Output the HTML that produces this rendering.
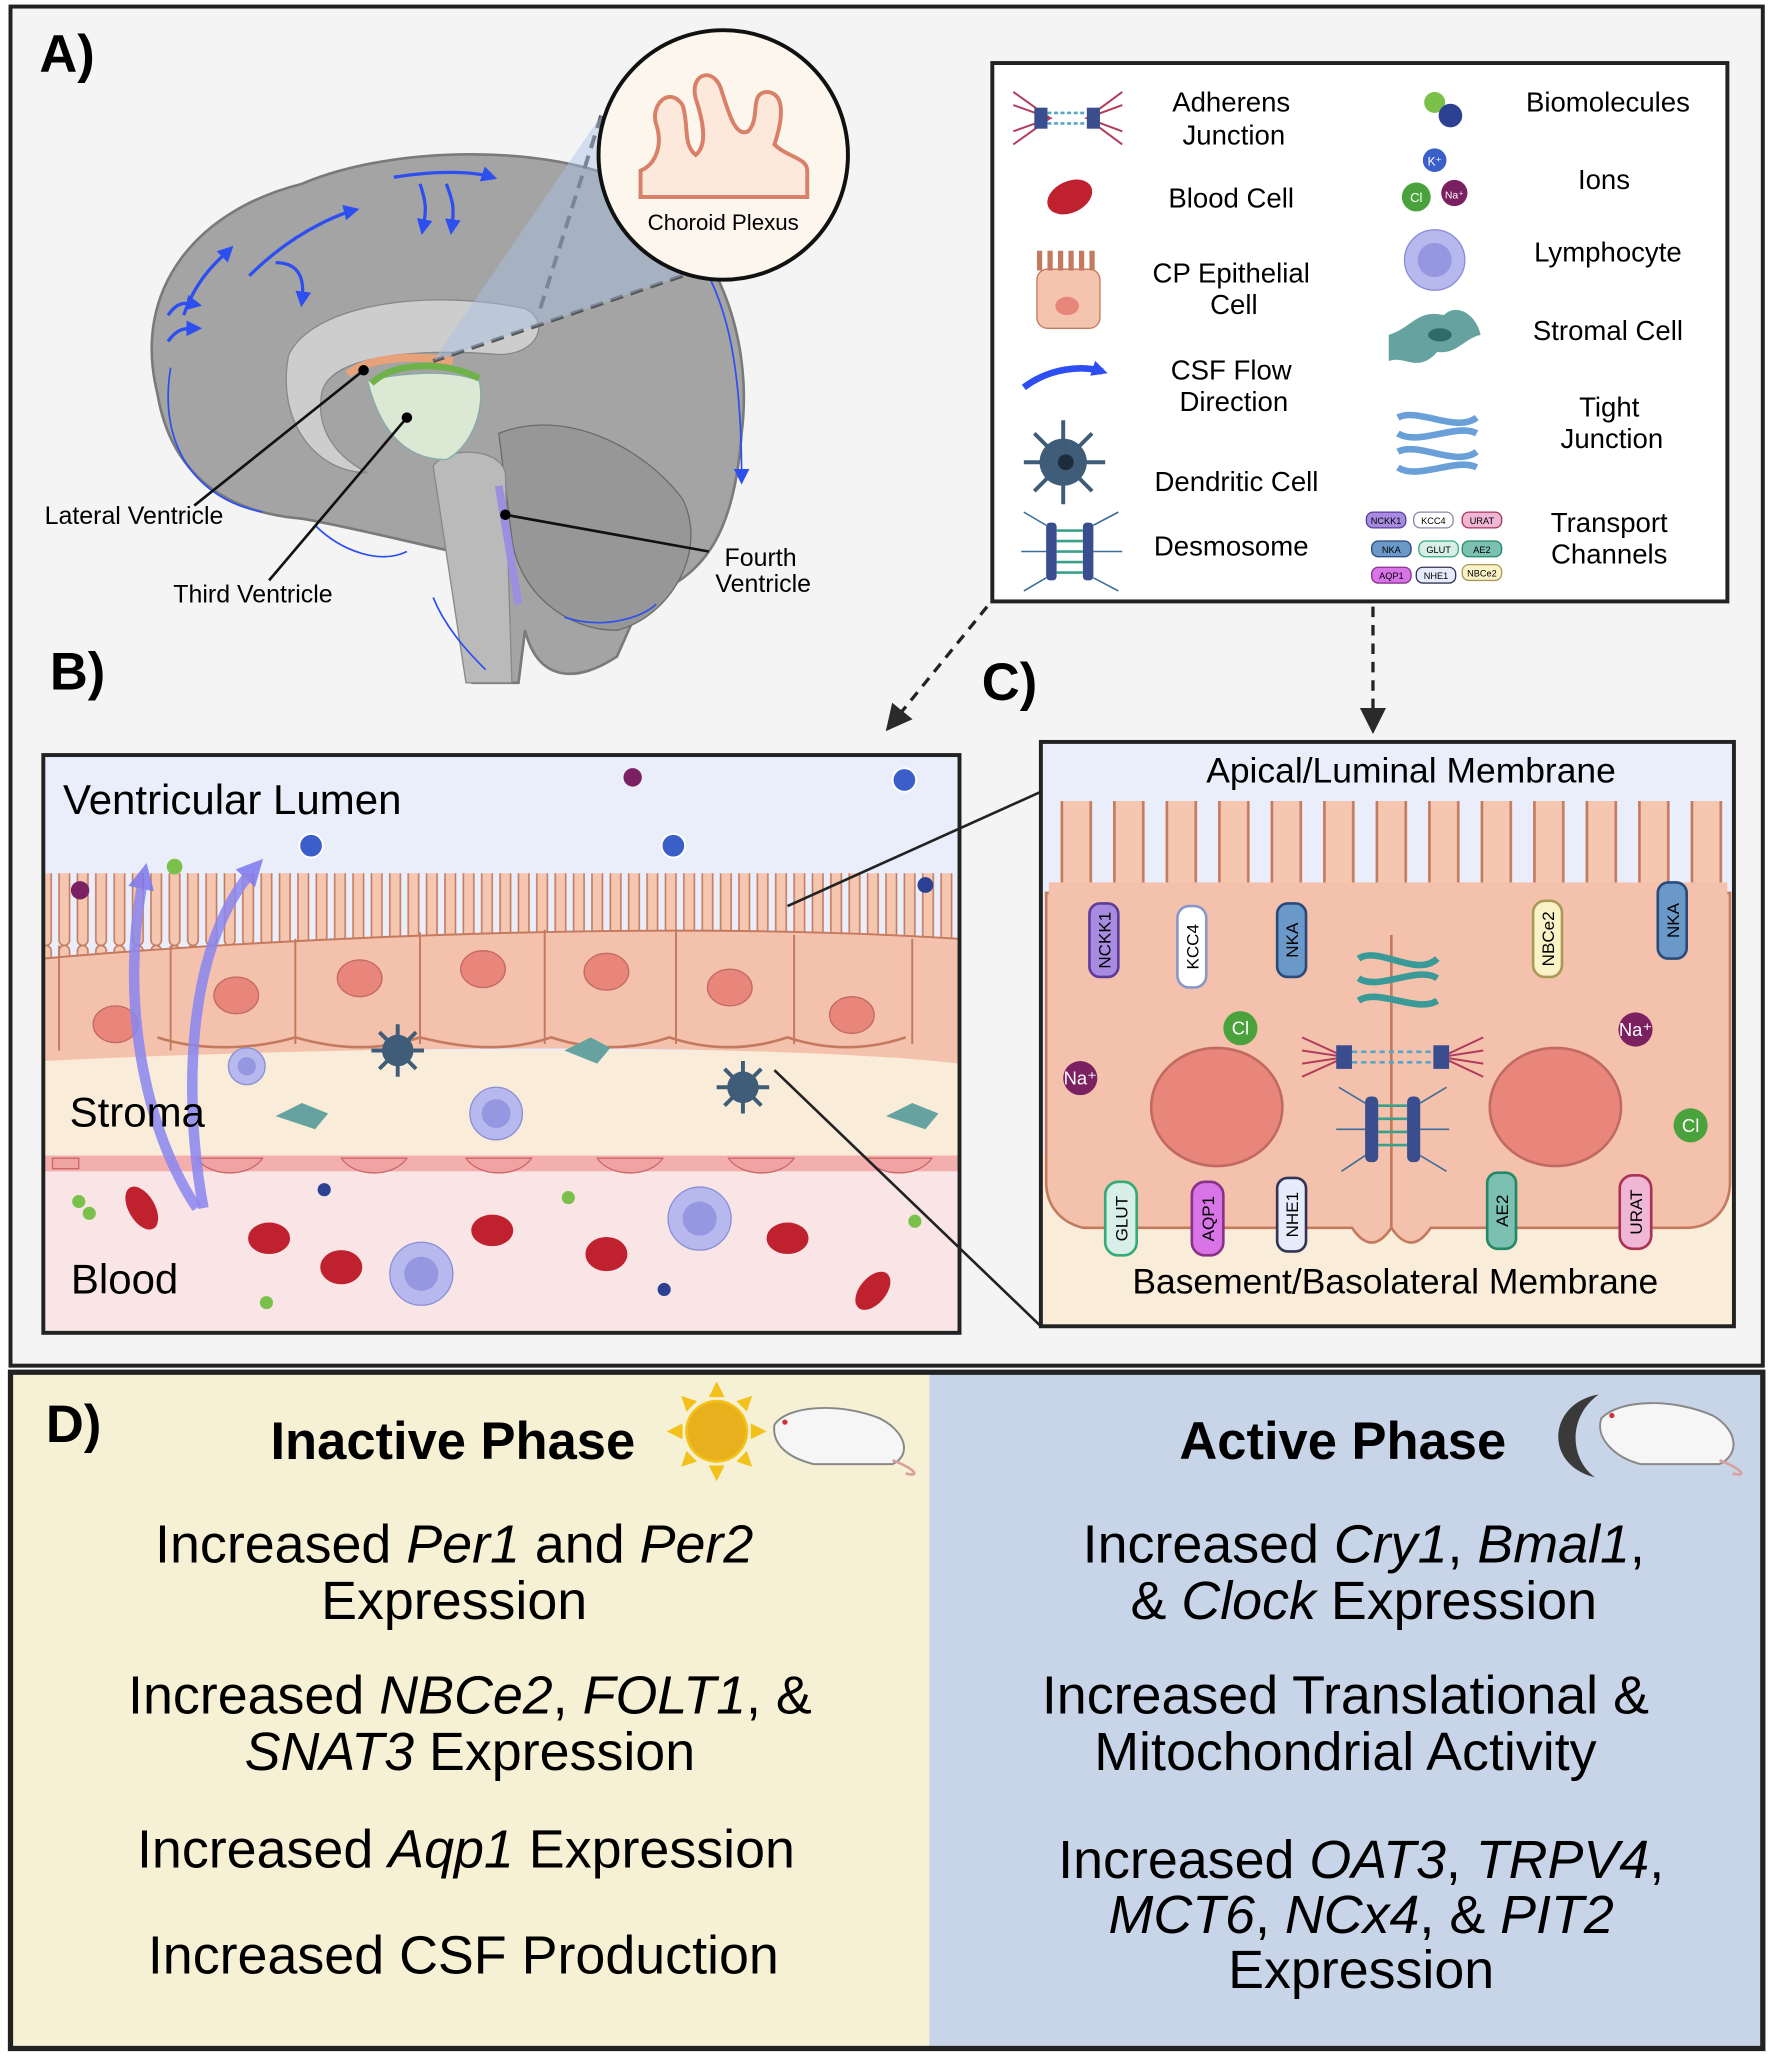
<!DOCTYPE html>
<html><head><meta charset="utf-8"><style>
html,body{margin:0;padding:0;background:#fff;}
svg{display:block;font-family:"Liberation Sans",Arial,sans-serif;}
</style></head><body>
<svg width="1772" height="2059" viewBox="0 0 1350 1568" preserveAspectRatio="none" xmlns="http://www.w3.org/2000/svg">
<defs>
<pattern id="mv" x="0" y="0" width="14" height="80" patternUnits="userSpaceOnUse">
<rect x="3" y="0" width="8" height="80" rx="4" fill="#f5c6b0" stroke="#c47a5e" stroke-width="1.2"/>
</pattern>
<pattern id="mv2" x="0" y="0" width="40" height="140" patternUnits="userSpaceOnUse">
<rect x="9" y="2" width="22" height="140" rx="11" fill="#f5c6b0" stroke="#c47a5e" stroke-width="2"/>
</pattern>
<marker id="ah" markerWidth="8" markerHeight="8" refX="6" refY="4" orient="auto"><path d="M0,0 L8,4 L0,8 z" fill="#2a2a2a"/></marker>
<marker id="bh" markerUnits="userSpaceOnUse" markerWidth="12" markerHeight="12" refX="8" refY="6" orient="auto"><path d="M0,0 L12,6 L0,12 z" fill="#2d4ef0"/></marker>
<marker id="ph" markerUnits="userSpaceOnUse" markerWidth="20" markerHeight="20" refX="12" refY="10" orient="auto"><path d="M0,0 L20,10 L0,20 z" fill="#7c78f0"/></marker>
</defs>
<rect x="0" y="0" width="1350" height="1568" fill="#fff"/>
<rect x="8" y="5" width="1335" height="1035" fill="#f4f4f4" stroke="#222" stroke-width="3"/>
<text x="30" y="55" font-size="40" font-weight="bold">A)</text>
<text x="38" y="525" font-size="40" font-weight="bold">B)</text>
<text x="748" y="533" font-size="40" font-weight="bold">C)</text>

<!-- brain -->
<path d="M120,300 C100,220 150,160 230,140 C300,110 420,110 480,140 C540,170 575,250 565,330 C560,400 540,440 490,455 L470,500 C440,520 410,520 400,480 L395,520 L360,520 L345,420 C300,410 260,400 230,395 C170,390 130,360 120,300 Z" fill="#a4a4a4" stroke="#7a7a7a" stroke-width="2"/>
<path d="M380,330 C430,310 490,340 520,380 C540,420 510,470 470,480 C430,480 395,450 390,410 Z" fill="#979797" stroke="#6b6b6b"/>
<path d="M220,270 C240,230 330,220 400,235 C420,245 410,270 380,270 C320,265 250,270 245,300 C240,330 260,350 280,360 C240,360 210,320 220,270 Z" fill="#cdcdcd" stroke="#888"/>
<path d="M330,355 C340,340 380,340 385,360 L390,520 L355,520 Z" fill="#bababa" stroke="#888"/>
<path d="M280,290 C300,285 340,280 365,290 C370,310 360,340 340,350 C310,350 290,330 280,290 Z" fill="#dbe8d4" stroke="#8aa"/>
<path d="M283,292 C300,275 340,275 365,288" fill="none" stroke="#6fb24a" stroke-width="5"/>
<path d="M265,285 C280,272 315,270 345,275" fill="none" stroke="#e8a27a" stroke-width="6"/>
<path d="M380,370 L395,460" stroke="#9b8fe0" stroke-width="6"/>
<g fill="none" stroke="#2d4ef0" stroke-width="2.5">
<path d="M190,210 C230,170 270,160 270,160" marker-end="url(#bh)"/>
<path d="M300,135 C330,130 360,130 375,135" marker-end="url(#bh)"/>
<path d="M140,240 C150,210 170,195 175,190" marker-end="url(#bh)"/>
<path d="M210,200 C230,200 232,215 230,230" marker-end="url(#bh)"/>
<path d="M320,140 C325,155 325,160 322,175" marker-end="url(#bh)"/>
<path d="M340,140 C346,155 346,160 344,175" marker-end="url(#bh)"/>
<path d="M128,260 C135,250 140,250 150,250" marker-end="url(#bh)"/>
<path d="M128,240 C135,230 140,230 150,232" marker-end="url(#bh)"/>
</g>
<g fill="none" stroke="#2d4ef0" stroke-width="1.3">
<path d="M520,180 C555,220 565,280 565,365" marker-end="url(#bh)"/>
<path d="M130,280 C120,340 150,380 200,390"/>
<path d="M430,470 C460,480 490,470 500,460"/>
<path d="M330,455 C340,480 360,500 370,510"/>
<path d="M240,400 C260,420 290,430 310,420"/>
</g>
<path d="M458,88 L410,240 M520,210 L330,275" stroke="#555" stroke-width="3" stroke-dasharray="10,6" fill="none"/>
<path d="M458,88 L520,210 L330,275 Z" fill="#a9c4e4" opacity="0.45"/>
<circle cx="551" cy="118" r="95" fill="#fcf6ec" stroke="#111" stroke-width="3"/>
<path d="M488,150 L488,130 C500,125 505,110 500,95 C495,80 510,65 520,80 C525,95 520,110 530,118 C540,110 535,90 530,75 C525,55 545,50 550,70 C555,85 560,105 570,100 C580,90 570,70 585,70 C600,72 595,95 590,110 C600,120 615,120 615,130 L615,150 Z" fill="#fde9dc" stroke="#d88068" stroke-width="3"/>
<text x="551" y="175" font-size="17" text-anchor="middle">Choroid Plexus</text>
<g stroke="#111" stroke-width="2" fill="none">
<path d="M277,282 L148,385"/><path d="M310,318 L205,442"/><path d="M385,392 L540,420"/>
</g>
<circle cx="277" cy="282" r="4"/><circle cx="310" cy="318" r="4"/><circle cx="385" cy="392" r="4"/>
<text x="34" y="399" font-size="19">Lateral Ventricle</text>
<text x="132" y="459" font-size="19">Third Ventricle</text>
<text x="552" y="431" font-size="19">Fourth</text>
<text x="545" y="451" font-size="19">Ventricle</text>

<!-- legend -->
<rect x="756" y="48" width="560" height="410" fill="#fff" stroke="#222" stroke-width="3"/>
<g font-size="21" text-anchor="middle">
<text x="938" y="85">Adherens</text><text x="940" y="110">Junction</text>
<text x="938" y="158">Blood Cell</text>
<text x="938" y="215">CP Epithelial</text><text x="940" y="239">Cell</text>
<text x="938" y="289">CSF Flow</text><text x="940" y="313">Direction</text>
<text x="942" y="374">Dendritic Cell</text>
<text x="938" y="423">Desmosome</text>
<text x="1225" y="85">Biomolecules</text>
<text x="1222" y="144">Ions</text>
<text x="1225" y="199">Lymphocyte</text>
<text x="1225" y="259">Stromal Cell</text>
<text x="1226" y="317">Tight</text><text x="1228" y="341">Junction</text>
<text x="1226" y="405">Transport</text><text x="1226" y="429">Channels</text>
</g>
<g stroke="#b23a5a" stroke-width="1.5" fill="none"><path d="M772,70 L800,90 L772,110 M855,70 L828,90 L855,110 M772,80 L800,90 L772,100 M855,80 L828,90 L855,100"/></g>
<rect x="788" y="82" width="10" height="16" fill="#3a4d8f"/><rect x="828" y="82" width="10" height="16" fill="#3a4d8f"/>
<path d="M798,86 H828 M798,94 H828" stroke="#56a6c8" stroke-width="2" stroke-dasharray="3,2"/>
<ellipse cx="815" cy="150" rx="18" ry="12" fill="#c0212e" transform="rotate(-25 815 150)"/>
<rect x="790" y="205" width="48" height="45" rx="8" fill="#f4c4ae" stroke="#c47a5e"/>
<path d="M792,206 v-15 M800,206 v-15 M808,206 v-15 M816,206 v-15 M824,206 v-15 M832,206 v-15" stroke="#c47a5e" stroke-width="4"/>
<ellipse cx="813" cy="233" rx="9" ry="7" fill="#e9867c"/>
<path d="M780,295 C800,280 825,278 840,283" stroke="#2d4ef0" stroke-width="5" fill="none" marker-end="url(#bh)"/>
<circle cx="810" cy="352" r="18" fill="#3f5c78"/>
<g stroke="#3f5c78" stroke-width="3"><path d="M810,320 V384 M780,352 H842 M788,330 L832,374 M832,330 L788,374"/></g>
<circle cx="812" cy="352" r="6" fill="#1c2c3c"/>
<rect x="797" y="398" width="8" height="44" rx="3" fill="#3a4d8f"/><rect x="825" y="398" width="8" height="44" rx="3" fill="#3a4d8f"/>
<path d="M805,404 H825 M805,412 H825 M805,420 H825 M805,428 H825 M805,436 H825" stroke="#3aa08c" stroke-width="2"/>
<g stroke="#3a6d9a" stroke-width="1.2" fill="none"><path d="M797,400 L780,390 M797,440 L780,450 M833,400 L852,390 M833,440 L852,450 M797,420 L778,420 M833,420 L855,420"/></g>
<circle cx="1093" cy="78" r="8" fill="#7bc04b"/><circle cx="1105" cy="88" r="9" fill="#2c4191"/>
<circle cx="1093" cy="122" r="10" fill="#3a5fc8" stroke="#fff" stroke-width="2"/><circle cx="1079" cy="150" r="11" fill="#4aa23c"/><circle cx="1108" cy="147" r="10" fill="#7b2060"/>
<text x="1093" y="126" font-size="9" fill="#fff" text-anchor="middle">K⁺</text><text x="1079" y="154" font-size="10" fill="#fff" text-anchor="middle">Cl</text><text x="1108" y="151" font-size="8" fill="#fff" text-anchor="middle">Na⁺</text>
<circle cx="1093" cy="198" r="23" fill="#b7b9ee" stroke="#8a8ed6"/><circle cx="1093" cy="198" r="13" fill="#9598e0"/>
<path d="M1058,255 C1075,250 1080,235 1100,240 C1110,230 1125,240 1128,255 C1115,258 1110,270 1095,268 C1080,285 1070,270 1058,275 Z" fill="#66a3a0"/>
<ellipse cx="1097" cy="255" rx="9" ry="5" fill="#2f6b6a"/>
<g fill="none" stroke="#6aa0d8" stroke-width="5"><path d="M1065,318 C1080,310 1110,330 1125,318 M1065,330 C1080,340 1110,322 1125,330 M1065,344 C1080,336 1110,356 1125,344 M1065,356 C1080,366 1110,348 1125,356"/></g>
<g font-size="7" text-anchor="middle">
<rect x="1041" y="390" width="30" height="12" rx="5" fill="#a78be0" stroke="#5d3b9b"/><text x="1056" y="399">NCKK1</text>
<rect x="1077" y="390" width="30" height="12" rx="5" fill="#fff" stroke="#88a"/><text x="1092" y="399">KCC4</text>
<rect x="1114" y="390" width="30" height="12" rx="5" fill="#f0b6d6" stroke="#a35"/><text x="1129" y="399">URAT</text>
<rect x="1045" y="412" width="30" height="12" rx="5" fill="#6a98c8" stroke="#2a4a7a"/><text x="1060" y="421">NKA</text>
<rect x="1081" y="412" width="30" height="12" rx="5" fill="#d8eee8" stroke="#3a7"/><text x="1096" y="421">GLUT</text>
<rect x="1114" y="412" width="30" height="12" rx="5" fill="#7bc0b0" stroke="#286"/><text x="1129" y="421">AE2</text>
<rect x="1045" y="432" width="30" height="12" rx="5" fill="#d873e8" stroke="#838"/><text x="1060" y="441">AQP1</text>
<rect x="1079" y="432" width="30" height="12" rx="5" fill="#e6ecfb" stroke="#335"/><text x="1094" y="441">NHE1</text>
<rect x="1114" y="430" width="30" height="12" rx="5" fill="#fbf3c8" stroke="#a95"/><text x="1129" y="439">NBCe2</text>
</g>
<path d="M752,462 L678,553" stroke="#222" stroke-width="2.5" stroke-dasharray="8,6" marker-end="url(#ah)" fill="none"/>
<path d="M1046,462 L1046,554" stroke="#222" stroke-width="2.5" stroke-dasharray="8,6" marker-end="url(#ah)" fill="none"/>

<!-- B panel -->
<rect x="33" y="575" width="698" height="440" fill="#eaeefa"/>
<rect x="33" y="800" width="698" height="80" fill="#f9ecd8"/>
<rect x="33" y="880" width="698" height="135" fill="#f9e5e6"/>
<rect x="33" y="665" width="698" height="80" fill="url(#mv)"/>
<path d="M33,730 C200,715 500,700 731,715 L731,810 C600,795 300,795 33,808 Z" fill="#f4c2ac"/>
<path d="M33,730 C200,715 500,700 731,715" stroke="#c47a5e" stroke-width="1.5" fill="none"/>
<path d="M120,790 C150,800 190,800 225,790 C260,800 290,800 320,790 C360,800 390,800 420,790 C450,800 480,800 510,790 C540,800 570,800 600,790 C630,800 660,800 690,790" stroke="#c47a5e" stroke-width="2" fill="none"/>
<g stroke="#c47a5e" stroke-width="1.5"><path d="M45,720 V800 M130,720 V800 M225,715 V795 M320,710 V795 M415,708 V795 M515,708 V795 M605,712 V795 M695,715 V795"/></g>
<g fill="#e9867c" stroke="#c06a60"><ellipse cx="88" cy="780" rx="17" ry="14"/><ellipse cx="180" cy="758" rx="17" ry="14"/><ellipse cx="274" cy="745" rx="17" ry="14"/><ellipse cx="368" cy="738" rx="17" ry="14"/><ellipse cx="462" cy="740" rx="17" ry="14"/><ellipse cx="556" cy="752" rx="17" ry="14"/><ellipse cx="649" cy="773" rx="17" ry="14"/></g>
<rect x="33" y="880" width="698" height="12" fill="#e88" opacity="0.6"/>
<g fill="#f0a3a3" stroke="#c66"><path d="M40,882 h20 v8 h-20z M150,882 c10,15 40,15 50,0z M260,882 c10,15 40,15 50,0z M355,882 c10,15 40,15 50,0z M455,882 c10,15 40,15 50,0z M555,882 c10,15 40,15 50,0z M660,882 c10,15 40,15 50,0z"/></g>
<path d="M150,920 C110,860 90,760 110,665" stroke="#8a86f0" stroke-width="8" fill="none" opacity="0.85" marker-end="url(#ph)"/>
<path d="M155,920 C140,840 140,720 195,660" stroke="#8a86f0" stroke-width="8" fill="none" opacity="0.85" marker-end="url(#ph)"/>
<text x="48" y="620" font-size="32">Ventricular Lumen</text>
<text x="53" y="858" font-size="32">Stroma</text>
<text x="54" y="985" font-size="32">Blood</text>
<g fill="#c0212e"><ellipse cx="108" cy="920" rx="10" ry="18" transform="rotate(-30 108 920)"/><ellipse cx="205" cy="943" rx="16" ry="12"/><ellipse cx="260" cy="965" rx="16" ry="13"/><ellipse cx="375" cy="937" rx="16" ry="12"/><ellipse cx="462" cy="955" rx="16" ry="13"/><ellipse cx="600" cy="943" rx="16" ry="12"/><ellipse cx="665" cy="983" rx="10" ry="17" transform="rotate(40 665 983)"/></g>
<g fill="#b7b9ee" stroke="#8a8ed6"><circle cx="321" cy="970" r="24"/><circle cx="533" cy="928" r="24"/><circle cx="378" cy="848" r="20"/><circle cx="188" cy="812" r="14"/></g>
<g fill="#9598e0"><circle cx="321" cy="970" r="13"/><circle cx="533" cy="928" r="13"/><circle cx="378" cy="848" r="11"/><circle cx="188" cy="812" r="7"/></g>
<g fill="#3f5c78"><circle cx="303" cy="800" r="12"/><circle cx="566" cy="828" r="12"/></g>
<g stroke="#3f5c78" stroke-width="3"><path d="M303,780 V820 M283,800 H323 M289,786 L317,814 M317,786 L289,814 M566,808 V848 M546,828 H586 M552,814 L580,842 M580,814 L552,842"/></g>
<g fill="#66a3a0"><path d="M430,800 l20,-10 l15,8 l-10,12 z"/><path d="M210,850 l20,-10 l20,8 l-10,12 z"/><path d="M675,850 l20,-10 l20,8 l-10,12 z"/></g>
<g fill="#7bc04b"><circle cx="133" cy="660" r="6"/><circle cx="60" cy="915" r="5"/><circle cx="68" cy="924" r="5"/><circle cx="433" cy="912" r="5"/><circle cx="203" cy="992" r="5"/><circle cx="697" cy="930" r="5"/></g>
<g fill="#2c4191"><circle cx="705" cy="674" r="6"/><circle cx="247" cy="906" r="5"/><circle cx="506" cy="982" r="5"/></g>
<g fill="#3a5fc8" stroke="#fff" stroke-width="1.5"><circle cx="237" cy="644" r="9"/><circle cx="513" cy="644" r="9"/><circle cx="689" cy="594" r="9"/></g>
<g fill="#7b2060"><circle cx="482" cy="592" r="7"/><circle cx="61" cy="678" r="7"/></g>
<rect x="33" y="575" width="698" height="440" fill="none" stroke="#222" stroke-width="3"/>
<path d="M600,690 L793,603 M590,815 L793,1010" stroke="#222" stroke-width="2" fill="none"/>

<!-- C panel -->
<rect x="793" y="565" width="528" height="445" fill="#eaeefa"/>
<rect x="793" y="880" width="528" height="130" fill="#f9ecd8"/>
<rect x="800" y="610" width="515" height="90" fill="url(#mv2)"/>
<path d="M797,680 L1060,680 L1060,935 C1050,950 1040,950 1030,935 L825,935 C805,930 797,915 797,900 Z" fill="#f4c2ac" stroke="#c47a5e" stroke-width="2"/>
<path d="M1060,680 L1318,680 L1318,900 C1318,920 1305,935 1285,935 L1090,935 C1080,950 1070,950 1060,935 Z" fill="#f4c2ac" stroke="#c47a5e" stroke-width="2"/>
<rect x="799" y="672" width="517" height="40" fill="#f4c2ac"/>
<ellipse cx="927" cy="843" rx="50" ry="45" fill="#e9867c" stroke="#c06a60" stroke-width="2"/>
<ellipse cx="1185" cy="843" rx="50" ry="45" fill="#e9867c" stroke="#c06a60" stroke-width="2"/>
<g fill="none" stroke="#3a9a98" stroke-width="5"><path d="M1035,730 C1050,720 1080,745 1095,730 M1035,745 C1050,755 1080,735 1095,745 M1035,762 C1050,752 1080,772 1095,762"/></g>
<g stroke="#b23a5a" stroke-width="1.5" fill="none"><path d="M992,790 L1025,805 L992,820 M1130,790 L1098,805 L1130,820 M992,800 L1025,805 L992,810 M1130,800 L1098,805 L1130,810"/></g>
<rect x="1018" y="796" width="12" height="18" fill="#3a4d8f"/><rect x="1092" y="796" width="12" height="18" fill="#3a4d8f"/>
<path d="M1030,801 H1092 M1030,809 H1092" stroke="#56a6c8" stroke-width="2" stroke-dasharray="4,3"/>
<rect x="1040" y="835" width="10" height="50" rx="4" fill="#3a4d8f"/><rect x="1072" y="835" width="10" height="50" rx="4" fill="#3a4d8f"/>
<path d="M1050,842 H1072 M1050,852 H1072 M1050,862 H1072 M1050,872 H1072" stroke="#3aa08c" stroke-width="2"/>
<g stroke="#3a6d9a" stroke-width="1.2" fill="none"><path d="M1040,840 L1020,828 M1040,880 L1022,892 M1082,840 L1102,828 M1082,880 L1102,892 M1040,860 L1018,860 M1082,860 L1104,860"/></g>
<g font-size="13" text-anchor="middle">
<rect x="830" y="688" width="22" height="56" rx="8" fill="#a78be0" stroke="#5d3b9b" stroke-width="2"/><text transform="translate(846,716) rotate(-90)">NCKK1</text>
<rect x="897" y="690" width="22" height="62" rx="9" fill="#fff" stroke="#8898c8" stroke-width="2"/><text transform="translate(913,721) rotate(-90)">KCC4</text>
<rect x="973" y="688" width="22" height="56" rx="8" fill="#6a98c8" stroke="#2a4a7a" stroke-width="2"/><text transform="translate(989,716) rotate(-90)">NKA</text>
<rect x="1168" y="686" width="22" height="58" rx="9" fill="#fbf3c8" stroke="#a95" stroke-width="2"/><text transform="translate(1184,715) rotate(-90)">NBCe2</text>
<rect x="1263" y="672" width="22" height="58" rx="8" fill="#6a98c8" stroke="#2a4a7a" stroke-width="2"/><text transform="translate(1279,701) rotate(-90)">NKA</text>
<rect x="842" y="900" width="24" height="56" rx="10" fill="#d8eee8" stroke="#3a7" stroke-width="2"/><text transform="translate(859,928) rotate(-90)">GLUT</text>
<rect x="908" y="900" width="24" height="56" rx="10" fill="#d873e8" stroke="#838" stroke-width="2"/><text transform="translate(925,928) rotate(-90)">AQP1</text>
<rect x="973" y="897" width="22" height="56" rx="8" fill="#e6ecfb" stroke="#335" stroke-width="2"/><text transform="translate(989,925) rotate(-90)">NHE1</text>
<rect x="1133" y="893" width="22" height="58" rx="8" fill="#7bc0b0" stroke="#286" stroke-width="2"/><text transform="translate(1149,922) rotate(-90)">AE2</text>
<rect x="1234" y="895" width="24" height="56" rx="10" fill="#f0b6d6" stroke="#a35" stroke-width="2"/><text transform="translate(1251,923) rotate(-90)">URAT</text>
</g>
<g font-size="14" fill="#fff" text-anchor="middle">
<circle cx="945" cy="783" r="13" fill="#4aa23c"/><text x="945" y="788">Cl</text>
<circle cx="823" cy="821" r="13" fill="#7b2060"/><text x="823" y="826">Na⁺</text>
<circle cx="1246" cy="784" r="13" fill="#7b2060"/><text x="1246" y="789">Na⁺</text>
<circle cx="1288" cy="857" r="13" fill="#4aa23c"/><text x="1288" y="862">Cl</text>
</g>
<text x="1075" y="596" font-size="27" text-anchor="middle">Apical/Luminal Membrane</text>
<text x="1063" y="985" font-size="27" text-anchor="middle">Basement/Basolateral Membrane</text>
<rect x="793" y="565" width="528" height="445" fill="none" stroke="#222" stroke-width="3"/>

<!-- D panel -->
<rect x="8" y="1045" width="700" height="515" fill="#f6f0d4"/>
<rect x="708" y="1045" width="635" height="515" fill="#c8d5e8"/>
<rect x="8" y="1045" width="1335" height="515" fill="none" stroke="#222" stroke-width="4"/>
<text x="35" y="1098" font-size="40" font-weight="bold">D)</text>
<text x="345" y="1111" font-size="40" font-weight="bold" text-anchor="middle">Inactive Phase</text>
<text x="1023" y="1111" font-size="40" font-weight="bold" text-anchor="middle">Active Phase</text>
<g fill="#f3c21a"><circle cx="546" cy="1090" r="24"/><path d="M546,1052 l6,12 h-12z M546,1128 l6,-12 h-12z M508,1090 l12,6 v-12z M584,1090 l-12,6 v-12z M519,1063 l12,4 l-8,8z M573,1063 l-12,4 l8,8z M519,1117 l12,-4 l-8,-8z M573,1117 l-12,-4 l8,-8z"/></g>
<circle cx="546" cy="1090" r="22" fill="#e8b01c"/>
<g fill="#f6f6f6" stroke="#888" stroke-width="1.5">
<path d="M590,1085 C600,1070 640,1068 670,1080 C690,1090 695,1108 680,1115 L620,1115 C600,1110 588,1100 590,1085 Z"/>
<path d="M1220,1080 C1235,1065 1275,1065 1305,1078 C1325,1090 1325,1108 1310,1115 L1250,1115 C1230,1110 1215,1095 1220,1080 Z"/>
</g>
<path d="M680,1112 C700,1120 700,1125 690,1122" stroke="#d8a0a0" stroke-width="2" fill="none"/>
<path d="M1310,1112 C1330,1120 1330,1125 1320,1122" stroke="#d8a0a0" stroke-width="2" fill="none"/>
<circle cx="598" cy="1083" r="2" fill="#c33"/><circle cx="1228" cy="1078" r="2" fill="#c33"/>
<path d="M1218,1062 C1180,1068 1175,1115 1215,1125 C1195,1110 1195,1078 1218,1062 Z" fill="#3a3a3a"/>
<g font-size="41" text-anchor="middle">
<text x="346" y="1190">Increased <tspan font-style="italic">Per1</tspan> and <tspan font-style="italic">Per2</tspan></text>
<text x="346" y="1233">Expression</text>
<text x="358" y="1305">Increased <tspan font-style="italic">NBCe2</tspan>, <tspan font-style="italic">FOLT1</tspan>, &amp;</text>
<text x="358" y="1348"><tspan font-style="italic">SNAT3</tspan> Expression</text>
<text x="355" y="1422">Increased <tspan font-style="italic">Aqp1</tspan> Expression</text>
<text x="353" y="1503">Increased CSF Production</text>
<text x="1039" y="1190">Increased <tspan font-style="italic">Cry1</tspan>, <tspan font-style="italic">Bmal1</tspan>,</text>
<text x="1039" y="1233">&amp; <tspan font-style="italic">Clock</tspan> Expression</text>
<text x="1025" y="1305">Increased Translational &amp;</text>
<text x="1025" y="1348">Mitochondrial Activity</text>
<text x="1037" y="1430">Increased <tspan font-style="italic">OAT3</tspan>, <tspan font-style="italic">TRPV4</tspan>,</text>
<text x="1037" y="1472"><tspan font-style="italic">MCT6</tspan>, <tspan font-style="italic">NCx4</tspan>, &amp; <tspan font-style="italic">PIT2</tspan></text>
<text x="1037" y="1514">Expression</text>
</g>
</svg>
</body></html>
